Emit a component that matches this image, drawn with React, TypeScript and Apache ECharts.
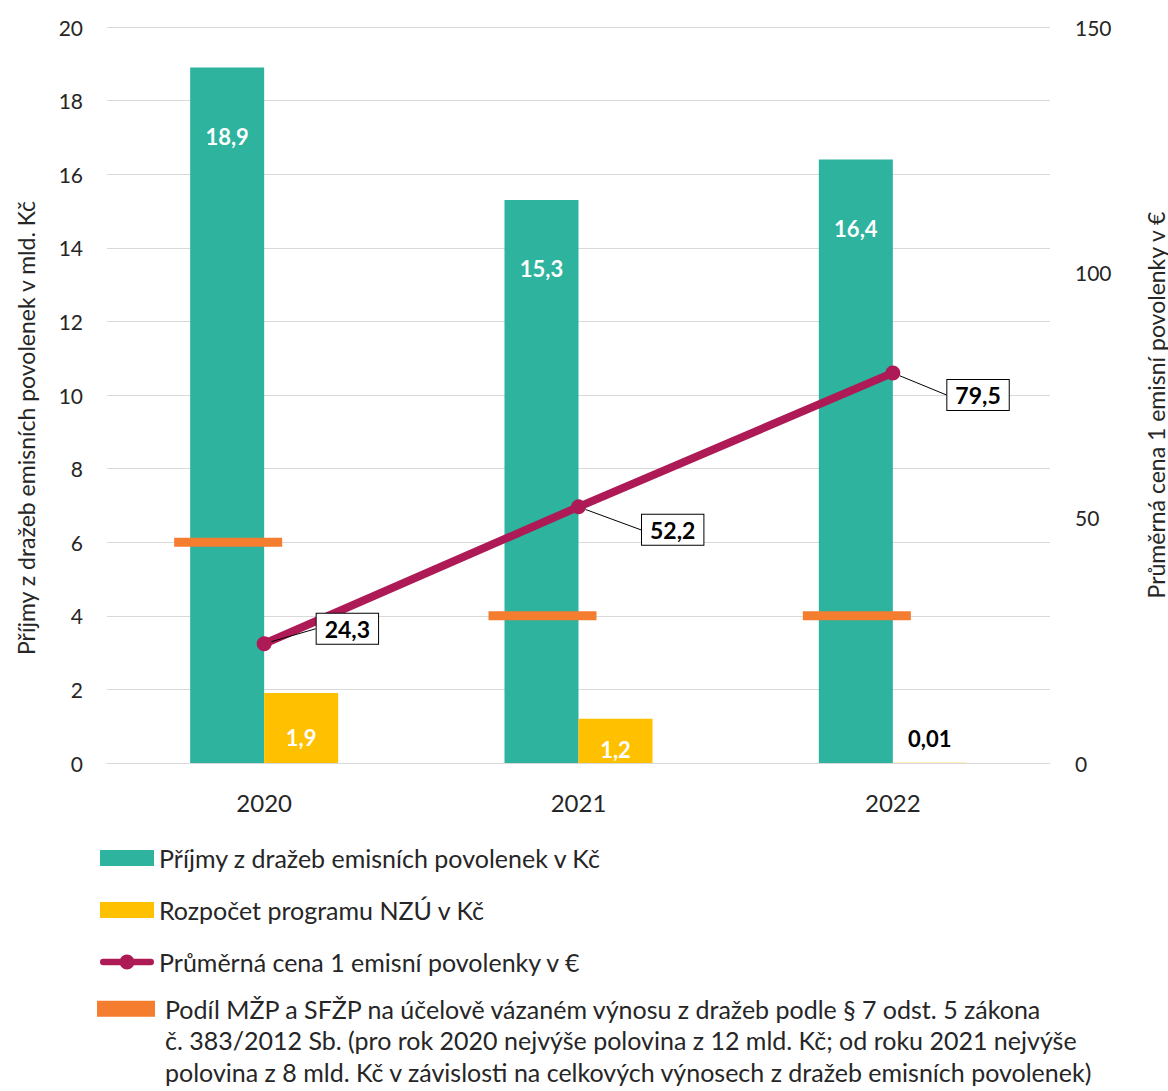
import React, { useEffect, useRef } from "react";
import * as echarts from "echarts";

const categories = ["2020", "2021", "2022"];
const revenue = [18.9, 15.3, 16.4];
const budget = [1.9, 1.2, 0.01];
const price = [24.3, 52.2, 79.5];
const share = [6, 4, 4];

const nameRevenue = "Příjmy z dražeb emisních povolenek v Kč";
const nameBudget = "Rozpočet programu NZÚ v Kč";
const namePrice = "Průměrná cena 1 emisní povolenky v €";
const nameShare =
  "Podíl MŽP a SFŽP na účelově vázaném výnosu z dražeb podle § 7 odst. 5 zákona č. 383/2012 Sb. (pro rok 2020 nejvýše polovina z 12 mld. Kč; od roku 2021 nejvýše polovina z 8 mld. Kč v závislosti na celkových výnosech z dražeb emisních povolenek)";
const shareLines = [
  "Podíl MŽP a SFŽP na účelově vázaném výnosu z dražeb podle § 7 odst. 5 zákona",
  "č. 383/2012 Sb. (pro rok 2020 nejvýše polovina z 12 mld. Kč; od roku 2021 nejvýše",
  "polovina z 8 mld. Kč v závislosti na celkových výnosech z dražeb emisních povolenek)",
];
const leftAxisName = "Příjmy z dražeb emisních povolenek v mld. Kč";
const rightAxisName = "Průměrná cena 1 emisní povolenky v €";

const FONT = "Lato";
const fmt = (v: number) => String(v).replace(".", ",");

const TEAL = "#2DB39E";
const YELLOW = "#FFC000";
const CRIMSON = "#AE1A56";
const ORANGE = "#F47D30";

const LINE_ICON =
  "path://M3,4.5 L53,4.5 A3.5,3.5 0 0,1 53,11.5 L3,11.5 A3.5,3.5 0 0,1 3,4.5 Z M20,8 A8,8 0 1,1 36,8 A8,8 0 1,1 20,8 Z";

export default function App() {
  const ref = useRef<HTMLDivElement>(null);
  useEffect(() => {
    if (!ref.current) return;
    const chart = echarts.init(ref.current, null, { renderer: "svg" });
    const offsets = [
      [40, -15],
      [51, 23],
      [42, 22],
    ];
    chart.setOption({
      animation: false,
      textStyle: { fontFamily: FONT },
      grid: { left: 107, right: 118, top: 27, bottom: 328, outerBoundsMode: "none", containLabel: false },
      legend: [
        {
          orient: "vertical",
          left: 100,
          top: 844,
          padding: 0,
          itemWidth: 54,
          itemHeight: 16,
          itemGap: 24,
          data: [
            { name: nameRevenue, icon: "rect" },
            { name: nameBudget, icon: "rect" },
            { name: namePrice, icon: LINE_ICON, itemStyle: { color: CRIMSON } },
          ],
          textStyle: { fontFamily: FONT, fontSize: 25, color: "#262626", lineHeight: 28 },
        },
        {
          orient: "vertical",
          left: 97,
          top: 930,
          padding: 0,
          itemWidth: 58,
          itemHeight: 16,
          data: [{ name: nameShare, icon: "rect" }],
          formatter: () => "\n\n" + shareLines.join("\n"),
          textStyle: {
            fontFamily: FONT,
            fontSize: 25,
            color: "#262626",
            lineHeight: 31.5,
            padding: [0, 0, 0, 5],
          },
        },
      ],
      xAxis: {
        type: "category",
        data: categories,
        axisLine: { lineStyle: { color: "#d9d9d9", width: 1 } },
        axisTick: { show: false },
        axisLabel: { fontSize: 24, color: "#262626", margin: 27, fontFamily: FONT },
      },
      yAxis: [
        {
          type: "value",
          min: 0,
          max: 20,
          interval: 2,
          name: leftAxisName,
          nameLocation: "middle",
          nameGap: 70,
          nameTextStyle: { fontSize: 23, color: "#262626", fontFamily: FONT, padding: [0, 66, 0, 0] },
          axisLabel: { fontSize: 21, color: "#262626", margin: 24, fontFamily: FONT },
          splitLine: { lineStyle: { color: "#d9d9d9" } },
          axisLine: { show: false },
          axisTick: { show: false },
        },
        {
          type: "value",
          min: 0,
          max: 150,
          interval: 50,
          name: rightAxisName,
          nameLocation: "middle",
          nameGap: 94,
          nameTextStyle: { fontSize: 23, color: "#262626", fontFamily: FONT, padding: [0, 20, 0, 0] },
          axisLabel: { fontSize: 21, color: "#262626", margin: 25, fontFamily: FONT },
          splitLine: { show: false },
          axisLine: { show: false },
          axisTick: { show: false },
        },
      ],
      series: [
        {
          name: nameRevenue,
          type: "bar",
          data: revenue,
          barWidth: 74,
          barGap: "0%",
          itemStyle: { color: TEAL },
          label: {
            show: true,
            position: "insideTop",
            distance: 58,
            color: "#fff",
            fontWeight: "bold",
            fontSize: 22,
            fontFamily: FONT,
            formatter: (p: any) => fmt(p.value),
          },
          z: 2,
        },
        {
          name: nameBudget,
          type: "bar",
          data: budget.map((v) =>
            v < 0.5
              ? { value: v, label: { position: "top", color: "#000", distance: 22 } }
              : { value: v }
          ),
          barWidth: 74,
          barGap: "0%",
          itemStyle: { color: YELLOW },
          label: {
            show: true,
            position: "inside",
            offset: [0, 9],
            color: "#fff",
            fontWeight: "bold",
            fontSize: 22,
            fontFamily: FONT,
            formatter: (p: any) => fmt(p.value),
          },
          z: 2,
        },
        {
          name: nameShare,
          type: "scatter",
          data: share,
          symbol: "rect",
          symbolSize: [108, 9],
          symbolOffset: [-36, 0],
          itemStyle: { color: ORANGE, opacity: 1 },
          z: 3,
        },
        {
          name: namePrice,
          type: "line",
          yAxisIndex: 1,
          data: price,
          symbol: "circle",
          symbolSize: 15,
          lineStyle: { color: CRIMSON, width: 8 },
          itemStyle: { color: CRIMSON },
          z: 4,
          label: {
            show: true,
            position: "right",
            distance: 5,
            color: "#000",
            fontWeight: "bold",
            fontSize: 23,
            fontFamily: FONT,
            backgroundColor: "#fff",
            borderColor: "#000",
            borderWidth: 1,
            padding: [4, 8, 3, 8],
            formatter: (p: any) => fmt(p.value),
          },
          labelLine: { show: true, lineStyle: { color: "#000", width: 1 } },
          labelLayout: (p: any) => ({ dx: offsets[p.dataIndex][0], dy: offsets[p.dataIndex][1] }),
        },
      ],
    });
    return () => chart.dispose();
  }, []);
  return (
    <div
      ref={ref}
      style={{ position: "fixed", left: 0, top: 0, width: 1168, height: 1091, background: "#fff" }}
    />
  );
}
